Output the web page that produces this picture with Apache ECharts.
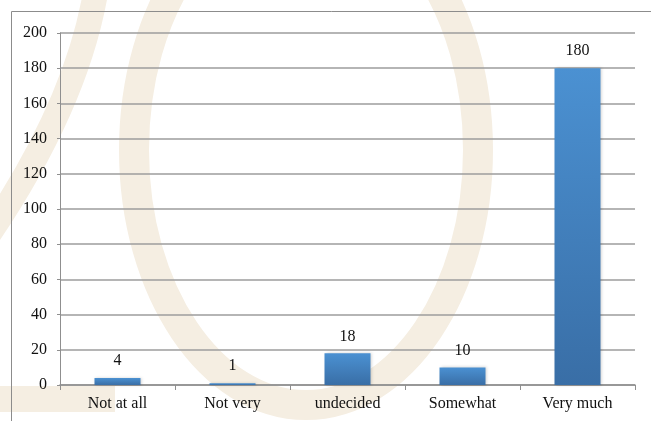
<!DOCTYPE html>
<html>
<head>
<meta charset="utf-8">
<script src="https://cdn.jsdelivr.net/npm/echarts@6/dist/echarts.min.js"></script>
<style>
  html, body { margin: 0; padding: 0; background: #ffffff; }
  #chart { width: 651px; height: 421px; }
</style>
</head>
<body>
<div id="chart"></div>
<script>
const categories = ['Not at all', 'Not very', 'undecided', 'Somewhat', 'Very much'];
const counts = [4, 1, 18, 10, 180];
const yMin = 0;
const yMax = 200;
const yStep = 20;

const FONT = 'Liberation Serif';
const BEIGE = '#f5eee2';

function initChart(dom) {
  const chart = echarts.init(dom, null, { width: 651, height: 421, renderer: 'canvas' });
  chart.setOption({
    animation: false,
    // faint logo watermark + outer frame
    graphic: [
      { type: 'ellipse', z: -10, silent: true,
        shape: { cx: 306, cy: 150, rx: 172, ry: 255 },
        style: { fill: 'none', stroke: BEIGE, lineWidth: 30 } },
      { type: 'bezierCurve', z: -10, silent: true,
        shape: { x1: 96, y1: -10, cpx1: 76, cpy1: 110, x2: -22, y2: 250 },
        style: { fill: 'none', stroke: BEIGE, lineWidth: 25 } },
      { type: 'rect', z: -10, silent: true,
        shape: { x: 0, y: 386, width: 115, height: 26 },
        style: { fill: BEIGE } },
      { type: 'rect', z: -5, silent: true,
        shape: { x: 11.5, y: 11.5, width: 700, height: 500 },
        style: { fill: 'none', stroke: '#8c8c8c', lineWidth: 1 } }
    ],
    grid: { left: 60, right: 16, top: 33, bottom: 36, containLabel: false },
    xAxis: {
      type: 'category',
      data: categories,
      axisLine: { show: true, lineStyle: { color: '#8f8f8f', width: 1.5 } },
      axisTick: { show: true, length: 5, lineStyle: { color: '#8f8f8f' } },
      axisLabel: { fontFamily: FONT, fontSize: 16, color: '#111', margin: 11 }
    },
    yAxis: {
      type: 'value',
      min: yMin,
      max: yMax,
      interval: yStep,
      axisLine: { show: true, lineStyle: { color: '#8f8f8f', width: 1 } },
      axisTick: { show: true, length: 3, lineStyle: { color: '#8f8f8f' } },
      axisLabel: { fontFamily: FONT, fontSize: 16, color: '#111', margin: 13 },
      splitLine: { show: true, lineStyle: { color: '#9c9c9c', width: 1.5 } }
    },
    series: [{
      name: 'count',
      type: 'bar',
      data: counts,
      barWidth: 46,
      itemStyle: {
        color: new echarts.graphic.LinearGradient(0, 0, 0, 1, [
          { offset: 0, color: '#4b91d2' },
          { offset: 1, color: '#396ea6' }
        ]),
        shadowColor: 'rgba(0, 0, 0, 0.18)',
        shadowBlur: 3,
        shadowOffsetX: 1
      },
      label: {
        show: true,
        position: 'top',
        distance: 9,
        fontFamily: FONT,
        fontSize: 16,
        color: '#111'
      }
    }]
  });
  return chart;
}

initChart(document.getElementById('chart'));
</script>
</body>
</html>
